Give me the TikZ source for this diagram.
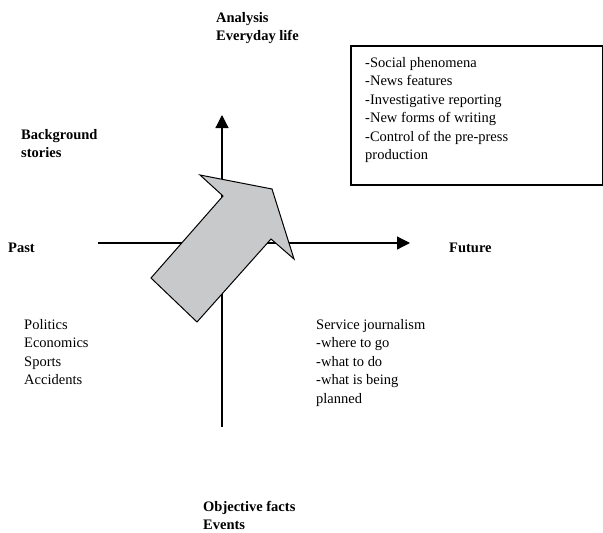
\documentclass[tikz,border=0pt]{standalone}
\usepackage{fontspec}
\setmainfont{Liberation Serif}
\usetikzlibrary{arrows.meta}

\begin{document}
\begin{tikzpicture}[x=1pt, y=-1pt, every node/.style={inner sep=0pt, anchor=north west, align=left, font=\fontsize{14.5}{18.5}\selectfont},
	pole/.style={font=\fontsize{14.5}{18.5}\selectfont\bfseries},
	axis/.style={line width=1.2pt, -{Triangle[length=13pt, width=13pt]}}]
		\useasboundingbox (0,0) rectangle (603,533);

		% axes
		\path (222,427) coordinate (s)
		(222,115) coordinate (n)
		(98,243) coordinate (w)
		(410,243) coordinate (e);

		\draw[axis] (s) -- (n);
		\draw[axis] (w) -- (e);

		% labels at the ends
		\path (216,12) node[pole] (analysis) {Analysis\\Everyday life}
		(21,129) node[pole] (background) {Background\\stories}
		(8,243) node[pole] (past) {Past}
		(449,243) node[pole] (future) {Future}
		(203,501) node[pole] (objective) {Objective facts\\Events};

		% quadrants
		\path (24,319) node (politics) {Politics\\Economics\\Sports\\Accidents}
		(316,319) node (service) {Service journalism\\-where to go\\-what to do\\-what is being\\planned};

		\draw[line width=1.1pt] (351,46) rectangle (603,185);
		\path (365,57) node (features) {-Social phenomena\\-News features\\-Investigative reporting\\-New forms of writing\\-Control of the pre-press\\production};

		% big arrow
		\draw[line width=1pt, fill={rgb,255:red,200;green,201;blue,203}]
		(272,189) -- (294,259) -- (271,239) -- (197,322) -- (151,278) -- (223,196) -- (200,175) -- cycle;
	\end{tikzpicture}
\end{document}
